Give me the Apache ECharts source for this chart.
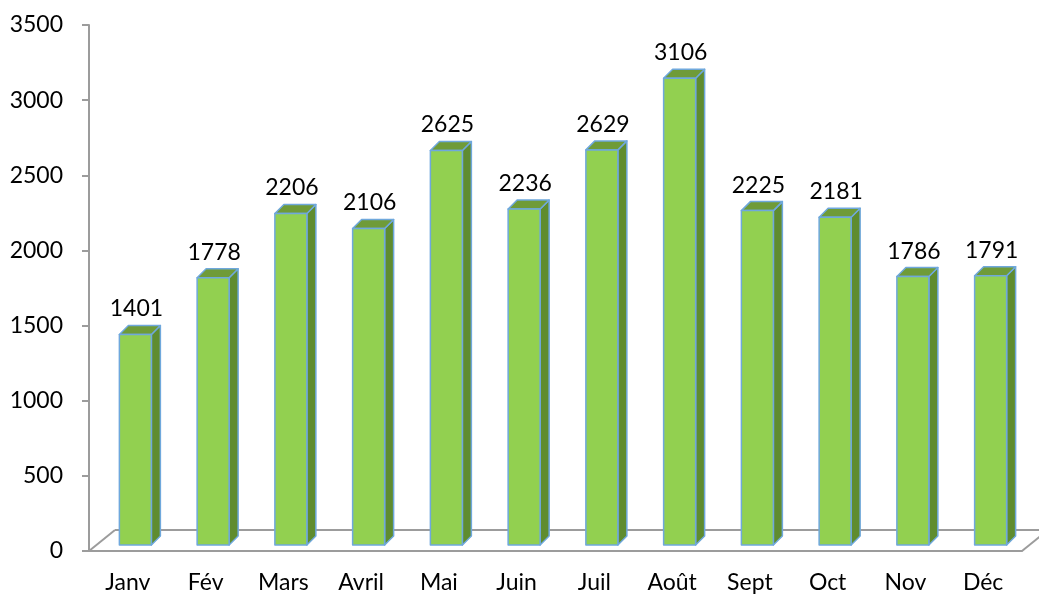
<!DOCTYPE html>
<html>
<head>
<meta charset="utf-8">
<script src="https://cdn.jsdelivr.net/npm/echarts@6/dist/echarts.min.js"></script>
<style>
  html, body { margin: 0; padding: 0; background: #fff; }
</style>
</head>
<body>
<div id="myChart" style="width:1039px; height:595px"></div>
<script>
  // données mensuelles
  var months = ['Janv', 'Fév', 'Mars', 'Avril', 'Mai', 'Juin', 'Juil', 'Août', 'Sept', 'Oct', 'Nov', 'Déc'];
  var values = [1401, 1778, 2206, 2106, 2625, 2236, 2629, 3106, 2225, 2181, 1786, 1791];
  var yTicks = [0, 500, 1000, 1500, 2000, 2500, 3000, 3500];

  var FONT = 'Lato, "Noto Sans", sans-serif';
  var AXIS = '#9c9c9c';
  // profondeur du plancher (pseudo 3D)
  var DX = 26, DY = -21;

  var myChart = echarts.init(document.getElementById('myChart'));

  function renderBar(params, api) {
    var i = api.value(0);
    var v = api.value(1);
    var base = api.coord([i, 0]);
    var top = api.coord([i, v]);
    var x0 = base[0] - 8.5, x1 = x0 + 32;
    var yb = base[1] - 6, yt = top[1] - 6;
    var dx = 9, dy = -9;
    var stroke = { stroke: '#6fa8dc', lineWidth: 1.5, lineJoin: 'round' };
    return {
      type: 'group',
      children: [
        { type: 'polygon', shape: { points: [[x1, yb], [x1 + dx, yb + dy], [x1 + dx, yt + dy], [x1, yt]] },
          style: Object.assign({ fill: '#5f8c2f' }, stroke) },
        { type: 'polygon', shape: { points: [[x0, yt], [x1, yt], [x1 + dx, yt + dy], [x0 + dx, yt + dy]] },
          style: Object.assign({ fill: '#6f9b38' }, stroke) },
        { type: 'rect', shape: { x: x0, y: yt, width: x1 - x0, height: yb - yt },
          style: Object.assign({ fill: '#92d050' }, stroke) },
        { type: 'text', style: { text: String(v), x: (x0 + x1) / 2 + 1, y: yt + dy - 5,
          align: 'center', verticalAlign: 'bottom', font: '23px ' + FONT, fill: '#000' } }
      ]
    };
  }

  function renderFloor(params, api) {
    var cs = params.coordSys;
    var x0 = cs.x, x1 = cs.x + cs.width, y = cs.y + cs.height;
    var ln = { stroke: AXIS, lineWidth: 2 };
    return {
      type: 'group',
      children: [
        { type: 'line', shape: { x1: x0, y1: y, x2: x0 + DX, y2: y + DY }, style: ln },
        { type: 'line', shape: { x1: x0 + DX, y1: y + DY, x2: x1 + DX, y2: y + DY }, style: ln },
        { type: 'line', shape: { x1: x1, y1: y, x2: x1 + DX, y2: y + DY }, style: ln }
      ]
    };
  }

  myChart.setOption({
    animation: false,
    grid: { left: 89, right: 17, top: 25, bottom: 44 },
    xAxis: {
      type: 'category',
      data: months,
      axisLine: { lineStyle: { color: AXIS, width: 2 } },
      axisTick: { length: 7, lineStyle: { color: AXIS, width: 2 } },
      axisLabel: { color: '#000', fontSize: 23, fontFamily: FONT, margin: 20 }
    },
    yAxis: {
      type: 'value',
      min: yTicks[0],
      max: yTicks[yTicks.length - 1],
      interval: 500,
      splitLine: { show: false },
      axisLine: { show: true, lineStyle: { color: AXIS, width: 2 } },
      axisTick: { show: true, length: 7, lineStyle: { color: AXIS, width: 2 } },
      axisLabel: { color: '#000', fontSize: 23, fontFamily: FONT, margin: 26,
        formatter: function (v) { return String(v); } }
    },
    series: [
      {
        type: 'custom',
        name: 'plancher',
        renderItem: renderFloor,
        data: [[0, 0]],
        z: 1,
        silent: true
      },
      {
        type: 'custom',
        name: 'valeurs',
        renderItem: renderBar,
        data: values.map(function (v, i) { return [i, v]; }),
        z: 2
      }
    ]
  });
</script>
</body>
</html>
